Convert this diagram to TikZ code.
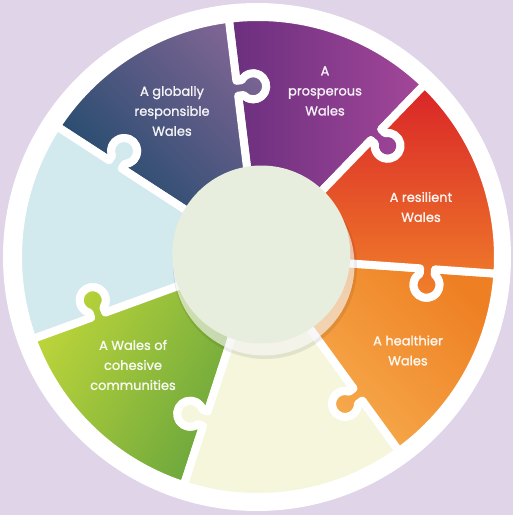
\documentclass[tikz,border=0pt]{standalone}
\usepackage{fontspec}
\setmainfont{Poppins}
\newfontfamily\lblfont{Poppins}[FakeBold=1.2]
\usetikzlibrary{calc}
\definecolor{bg}{HTML}{E0D4E8}
\definecolor{globA}{HTML}{1F4A6C}
\definecolor{globB}{HTML}{7C6493}
\definecolor{prosA}{HTML}{6A2F7E}
\definecolor{prosB}{HTML}{A4479A}
\definecolor{resA}{HTML}{D92428}
\definecolor{resB}{HTML}{F1802A}
\definecolor{healA}{HTML}{EE7F22}
\definecolor{healB}{HTML}{F6AC4E}
\definecolor{pale}{HTML}{F5F6DC}
\definecolor{greenA}{HTML}{BBD43A}
\definecolor{greenB}{HTML}{6AA63D}
\definecolor{lblue}{HTML}{D2EAEE}
\definecolor{inner}{HTML}{E8EEDD}
\newcommand\wpiece[3]{%
 \path[piece,#3]
  (#1:70) -- (#1:162.5) -- ($(#1:162.5)+(#1-90:5.38)$)
  arc[start angle=#1+125.2, end angle=#1+414.8, radius=13]
  -- (#1:177.5) -- (#1:240)
  arc[start angle=#1, end angle=#2, radius=240]
  -- (#2:177.5) -- ($(#2:177.5)+(#2-90:5.38)$)
  arc[start angle=#2+54.8, end angle=#2-234.8, radius=13]
  -- (#2:162.5) -- (#2:70)
  arc[start angle=#2, end angle=#1, radius=70] -- cycle;}
\begin{document}
\begin{tikzpicture}[x=1pt,y=1pt,
  piece/.style={draw=white, line width=8pt, line join=round},
  lbl/.style={text=white, text opacity=0.92, align=center, font=\lblfont\fontsize{13}{20}\selectfont}]
\useasboundingbox (-258,-258) rectangle (255,257);
\fill[bg] (-258,-258) rectangle (255,257);
\fill[white] (-1,0) circle[radius=254];
% pieces
\wpiece{46}{97}{left color=prosA, right color=prosB}
\wpiece{97}{147}{top color=globB, bottom color=globA, shading angle=-45}
\wpiece{147}{200}{fill=lblue}
\wpiece{200}{252}{left color=greenA, right color=greenB, shading angle=60}
\wpiece{-108}{-54}{fill=pale}
\wpiece{-54}{-4}{top color=healA, bottom color=healB, shading angle=-45}
\wpiece{-4}{46}{top color=resA, bottom color=resB}
% centre disc
\fill[black, opacity=0.08] (7,-10) circle[radius=92];
\fill[white, opacity=0.6] (6,-8) circle[radius=90.5];
\node[circle, fill=inner, minimum size=178pt, inner sep=0pt] (hub) at (3.3,2.5) {};
% labels
\node[lbl] (glob) at (-86,146) {A globally\\responsible\\Wales};
\node[lbl] (pros) at (67,166) {A\\prosperous\\Wales};
\node[lbl] (res) at (163,50) {A resilient\\Wales};
\node[lbl] (heal) at (150,-93.5) {A healthier\\Wales};
\node[lbl] (coh) at (-125,-108) {A Wales of\\cohesive\\communities};
\end{tikzpicture}
\end{document}
